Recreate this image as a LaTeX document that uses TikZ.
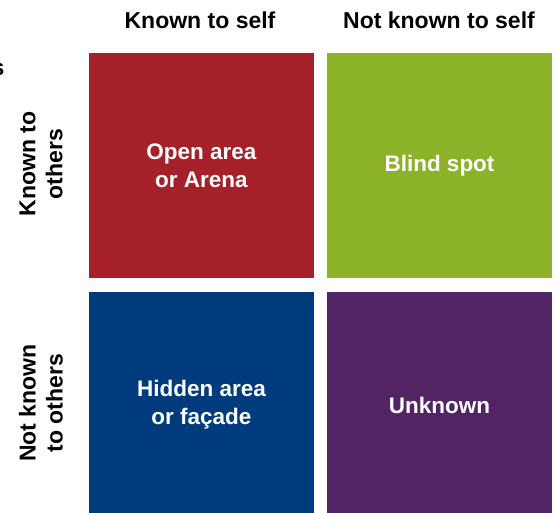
\documentclass[tikz,border=0pt]{standalone}
\usepackage{fontspec}
\setmainfont{Liberation Sans}
\definecolor{jred}{RGB}{165,32,41}
\definecolor{jgreen}{RGB}{139,178,40}
\definecolor{jblue}{RGB}{0,60,125}
\definecolor{jpurple}{RGB}{82,36,100}
\begin{document}
\begin{tikzpicture}[x=1pt,y=-1pt,
  inlabel/.style={text=white, font=\fontsize{22.5}{28}\selectfont\bfseries, align=center},
  head/.style={font=\fontsize{23}{24}\selectfont\bfseries},
  side/.style={font=\fontsize{23}{27}\selectfont\bfseries, align=center, rotate=90}]
\useasboundingbox (0,0) rectangle (558,513);
\fill[jred] (89,53) rectangle (314,278);
\fill[jgreen] (327,53) rectangle (552,278);
\fill[jblue] (89,292) rectangle (314,513);
\fill[jpurple] (327,292) rectangle (552,513);
\node[head] (h1) at (200,20) {Known to self};
\node[head] (h2) at (439,20) {Not known to self};
\node[side] (s1) at (41,164) {Known to\\others};
\node[side] (s2) at (41,403) {Not known\\to others};
\node[inlabel] (q1) at (201.5,166) {Open area\\or Arena};
\node[inlabel] (q2) at (439.5,166) {Blind spot};
\node[inlabel] (q3) at (201.5,405) {Hidden area\\or façade};
\node[inlabel] (q4) at (439.5,405) {Unknown};
\node[head, anchor=base east, inner sep=0pt] (frag) at (4.5,76) {s};
\end{tikzpicture}
\end{document}
